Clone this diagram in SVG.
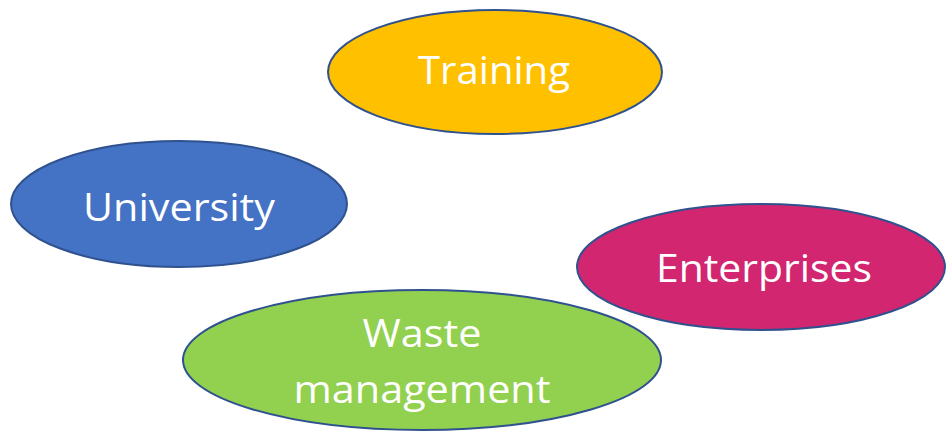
<svg xmlns="http://www.w3.org/2000/svg" width="948" height="436" viewBox="0 0 948 436">
<style>
.n{stroke:#2F528F;stroke-width:2}
.t{font-family:"Open Sans","Liberation Sans",sans-serif;font-size:38px;fill:#FFFFFF;text-anchor:middle}
</style>
<rect width="948" height="436" fill="#FFFFFF"/>
<g id="connectors"></g>
<g id="training">
<ellipse class="n" cx="495" cy="72" rx="167" ry="62" fill="#FFC000"/>
<text class="t" x="494" y="84" textLength="152" lengthAdjust="spacingAndGlyphs">Training</text>
</g>
<g id="university">
<ellipse class="n" cx="179" cy="204" rx="168" ry="63" fill="#4472C4"/>
<text class="t" x="179" y="221" textLength="192" lengthAdjust="spacingAndGlyphs">University</text>
</g>
<g id="enterprises">
<ellipse class="n" cx="761" cy="267" rx="184" ry="63" fill="#D22670"/>
<text class="t" x="764" y="282" textLength="216" lengthAdjust="spacingAndGlyphs">Enterprises</text>
</g>
<g id="waste">
<ellipse class="n" cx="422" cy="360" rx="239" ry="70" fill="#92D050"/>
<text class="t" x="422" y="347" textLength="119" lengthAdjust="spacingAndGlyphs">Waste</text>
<text class="t" x="422" y="403" textLength="257" lengthAdjust="spacingAndGlyphs">management</text>
</g>
</svg>
